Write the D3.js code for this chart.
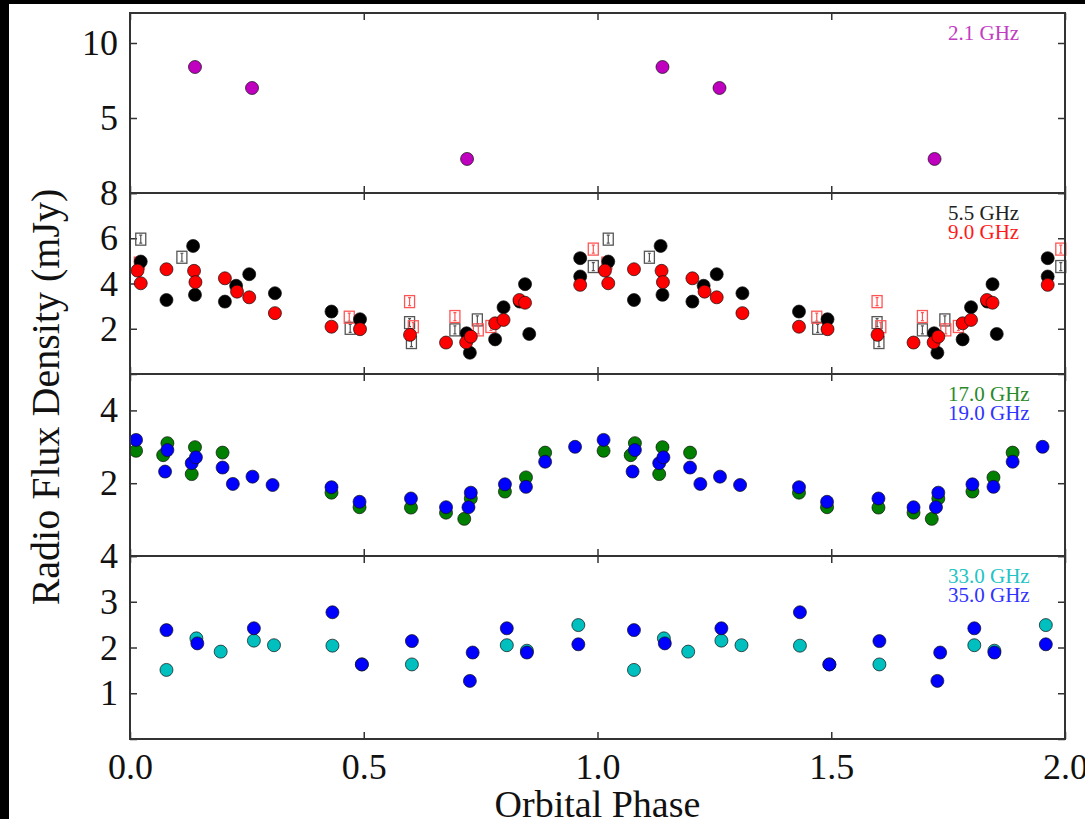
<!DOCTYPE html>
<html>
<head>
<meta charset="utf-8">
<script src="https://cdn.jsdelivr.net/npm/d3@7"></script>
<style>
  body { margin: 0; background: #000; }
  svg { display: block; }
  text { font-family: "Liberation Serif", "DejaVu Serif", serif; }
</style>
</head>
<body>
<svg id="chart" width="1085" height="819"></svg>
<script>
/* global d3 */

// one orbital cycle of data, plotted twice (phase and phase + 1)
const phase_2_1 = [0.139, 0.261, 0.721];
const flux_2_1 = [8.4, 7.0, 2.27];

const phase_5_5 = [0.023, 0.078, 0.135, 0.139, 0.203, 0.227, 0.255, 0.310, 0.431, 0.492, 0.720, 0.727, 0.781, 0.799, 0.834, 0.845, 0.854, 0.963, 0.963];
const flux_5_5 = [4.97, 3.27, 5.66, 3.50, 3.20, 3.90, 4.41, 3.57, 2.76, 2.42, 1.80, 0.94, 1.53, 2.95, 3.20, 3.97, 1.77, 5.12, 4.31];

const phase_9_0 = [0.016, 0.023, 0.078, 0.137, 0.140, 0.203, 0.229, 0.255, 0.310, 0.431, 0.492, 0.599, 0.676, 0.719, 0.729, 0.781, 0.799, 0.833, 0.845, 0.963];
const flux_9_0 = [4.57, 4.01, 4.63, 4.56, 4.06, 4.23, 3.64, 3.39, 2.69, 2.09, 1.98, 1.73, 1.39, 1.40, 1.65, 2.24, 2.39, 3.27, 3.15, 3.94];

// second epoch, open squares with error bars
const phase_5_5b = [0.023, 0.111, 0.471, 0.598, 0.602, 0.695, 0.743, 0.991];
const flux_5_5b = [5.96, 5.16, 2.02, 2.27, 1.39, 1.95, 2.39, 4.75];
const phase_9_0b = [0.020, 0.469, 0.598, 0.606, 0.695, 0.745, 0.772, 0.991];
const flux_9_0b = [4.90, 2.51, 3.20, 2.09, 2.54, 1.95, 2.10, 5.52];

const phase_17 = [0.013, 0.071, 0.080, 0.132, 0.139, 0.198, 0.431, 0.491, 0.601, 0.676, 0.715, 0.729, 0.802, 0.847, 0.888];
const flux_17 = [2.89, 2.77, 3.10, 2.25, 2.99, 2.84, 1.74, 1.34, 1.33, 1.19, 1.02, 1.58, 1.77, 2.16, 2.84];

const phase_19 = [0.013, 0.075, 0.080, 0.132, 0.141, 0.198, 0.220, 0.262, 0.305, 0.431, 0.491, 0.601, 0.676, 0.724, 0.729, 0.802, 0.847, 0.888, 0.952];
const flux_19 = [3.19, 2.32, 2.91, 2.55, 2.71, 2.43, 1.98, 2.18, 1.95, 1.89, 1.49, 1.58, 1.34, 1.34, 1.74, 1.97, 1.90, 2.59, 3.00];

const phase_33 = [0.078, 0.142, 0.194, 0.265, 0.308, 0.433, 0.496, 0.603, 0.806, 0.849, 0.959];
const flux_33 = [1.51, 2.20, 1.91, 2.15, 2.05, 2.04, 1.63, 1.63, 2.05, 1.93, 2.49];

const phase_35 = [0.078, 0.144, 0.265, 0.433, 0.496, 0.603, 0.727, 0.733, 0.806, 0.849, 0.959];
const flux_35 = [2.38, 2.09, 2.42, 2.77, 1.63, 2.14, 1.27, 1.89, 2.42, 1.89, 2.07];

const xTicks = [0, 0.5, 1.0, 1.5, 2.0];

const LEFT = 130;
const RIGHT = 1065;
const FONT_TICK = 36;
const TICK_LEN = 7;

const zip = (ph, fl) => ph.map((p, i) => ({ phase: p, flux: fl[i] }));

const panels = [
  { top: 13, bottom: 193, domain: [0, 12], ticks: [0, 5, 10], labels: [5, 10],
    circles: [{ data: zip(phase_2_1, flux_2_1), color: '#bf00bf' }],
    squares: [],
    legend: [{ text: '2.1 GHz', color: '#c23cc2' }] },
  { top: 193, bottom: 374, domain: [0, 8], ticks: [0, 2, 4, 6, 8], labels: [2, 4, 6, 8],
    squares: [{ data: zip(phase_5_5b, flux_5_5b), color: '#555' },
              { data: zip(phase_9_0b, flux_9_0b), color: '#f55' }],
    circles: [{ data: zip(phase_5_5, flux_5_5), color: '#000' },
              { data: zip(phase_9_0, flux_9_0), color: '#ff0000' }],
    legend: [{ text: '5.5 GHz', color: '#222' }, { text: '9.0 GHz', color: '#ff1a1a' }] },
  { top: 374, bottom: 556, domain: [0, 5], ticks: [0, 2, 4], labels: [2, 4],
    squares: [],
    circles: [{ data: zip(phase_17, flux_17), color: '#007f00' },
              { data: zip(phase_19, flux_19), color: '#0000ff' }],
    legend: [{ text: '17.0 GHz', color: '#2a8a2a' }, { text: '19.0 GHz', color: '#3333ff' }] },
  { top: 556, bottom: 739, domain: [0, 4], ticks: [0, 1, 2, 3, 4], labels: [1, 2, 3, 4],
    squares: [],
    circles: [{ data: zip(phase_33, flux_33), color: '#00bfbf' },
              { data: zip(phase_35, flux_35), color: '#0000ff' }],
    legend: [{ text: '33.0 GHz', color: '#22c4c4' }, { text: '35.0 GHz', color: '#3333ff' }] }
];

const svg = d3.select('#chart');

// white figure area (black strip left & top like the source crop)
svg.append('rect')
  .attr('x', 9).attr('y', 4)
  .attr('width', 1085 - 9).attr('height', 819 - 4)
  .attr('fill', '#fff');

const scaleX = d3.scaleLinear().domain([0, 2]).range([LEFT, RIGHT]);

// both copies of each point inside [0, 2]
function twoCycles(data) {
  const out = [];
  data.forEach(d => {
    out.push({ x: d.phase, flux: d.flux });
    if (d.phase + 1 <= 2) out.push({ x: d.phase + 1, flux: d.flux });
  });
  return out;
}

function styleAxis(g) {
  g.select('.domain').remove();
  g.selectAll('.tick line').attr('stroke', '#333').attr('stroke-width', 1.5);
  g.selectAll('.tick text')
    .attr('font-family', '"Liberation Serif", serif')
    .attr('font-size', FONT_TICK)
    .attr('fill', '#111');
}

panels.forEach((p, idx) => {
  const scaleY = d3.scaleLinear().domain(p.domain).range([p.bottom, p.top]);
  const $g = svg.append('g').attr('class', 'panel');

  // y axes (ticks pointing inward)
  const axisY = d3.axisLeft(scaleY)
    .tickValues(p.ticks)
    .tickSize(-TICK_LEN)
    .tickPadding(12)
    .tickFormat(d => p.labels.includes(d) ? d3.format('d')(d) : '');
  $g.append('g')
    .attr('transform', `translate(${LEFT},0)`)
    .call(axisY)
    .call(styleAxis);

  $g.append('g')
    .attr('transform', `translate(${RIGHT},0)`)
    .call(d3.axisRight(scaleY).tickValues(p.ticks).tickSize(-TICK_LEN).tickFormat(''))
    .call(styleAxis);

  // x ticks top & bottom
  $g.append('g')
    .attr('transform', `translate(0,${p.top})`)
    .call(d3.axisTop(scaleX).tickValues(xTicks).tickSize(-TICK_LEN).tickFormat(''))
    .call(styleAxis);

  const isLast = idx === panels.length - 1;
  $g.append('g')
    .attr('transform', `translate(0,${p.bottom})`)
    .call(d3.axisBottom(scaleX).tickValues(xTicks).tickSize(-TICK_LEN)
      .tickPadding(14)
      .tickFormat(isLast ? d3.format('.1f') : ''))
    .call(styleAxis);

  // open squares with error bars
  p.squares.forEach(s => {
    const $sq = $g.append('g').selectAll('g.sq')
      .data(twoCycles(s.data))
      .join('g')
      .attr('class', 'sq')
      .attr('transform', d => `translate(${scaleX(d.x)},${scaleY(d.flux)})`);
    $sq.append('rect')
      .attr('x', -5).attr('y', -6)
      .attr('width', 10).attr('height', 12)
      .attr('fill', 'none')
      .attr('stroke', s.color)
      .attr('stroke-width', 1.3);
    $sq.append('path')
      .attr('d', 'M0,-4V4M-1.5,-4H1.5M-1.5,4H1.5')
      .attr('stroke', s.color)
      .attr('stroke-width', 1.2)
      .attr('fill', 'none');
  });

  // filled circles
  p.circles.forEach(c => {
    $g.append('g').selectAll('circle')
      .data(twoCycles(c.data))
      .join('circle')
      .attr('cx', d => scaleX(d.x))
      .attr('cy', d => scaleY(d.flux))
      .attr('r', 6.5)
      .attr('fill', c.color)
      .attr('stroke', '#111')
      .attr('stroke-width', 0.7);
  });

  // frequency labels
  p.legend.forEach((l, i) => {
    $g.append('text')
      .attr('x', 948)
      .attr('y', p.top + 27 + i * 19)
      .attr('font-size', 21)
      .attr('fill', l.color)
      .text(l.text);
  });

  // frame
  $g.append('rect')
    .attr('x', LEFT).attr('y', p.top)
    .attr('width', RIGHT - LEFT).attr('height', p.bottom - p.top)
    .attr('fill', 'none')
    .attr('stroke', '#333')
    .attr('stroke-width', 2);
});

// axis titles
svg.append('text')
  .attr('x', (LEFT + RIGHT) / 2)
  .attr('y', 817)
  .attr('text-anchor', 'middle')
  .attr('font-size', 38)
  .attr('fill', '#111')
  .text('Orbital Phase');

svg.append('text')
  .attr('transform', 'translate(59,397) rotate(-90)')
  .attr('text-anchor', 'middle')
  .attr('font-size', 40)
  .attr('fill', '#111')
  .text('Radio Flux Density (mJy)');
</script>
</body>
</html>
